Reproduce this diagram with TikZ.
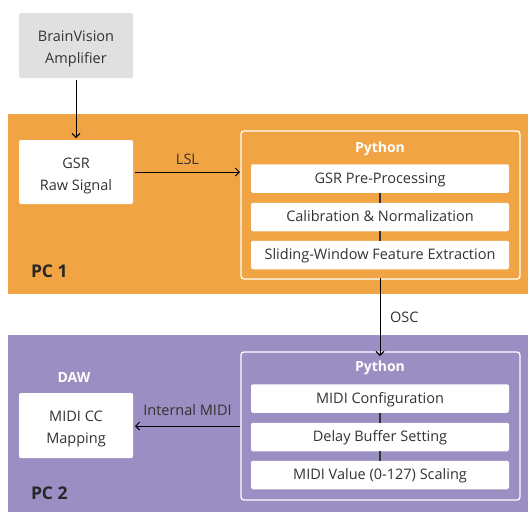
\documentclass[tikz,border=0pt]{standalone}
\usepackage{fontspec}
\setmainfont{Open Sans}
\usetikzlibrary{arrows.meta}
\definecolor{pcorange}{HTML}{F1A443}
\definecolor{pcpurple}{HTML}{9A8EC2}
\definecolor{ampgray}{HTML}{E0E0E0}
\definecolor{txt}{HTML}{333333}
\newcommand{\toppad}{\rule{0pt}{18pt}}
\begin{document}
\begin{tikzpicture}[x=1pt,y=-1pt,
  every node/.style={inner sep=0pt,outer sep=0pt,text=txt},
  boxnode/.style={draw=none,rounded corners=2pt,align=center,font=\fontsize{14.5}{22}\selectfont},
  whitebox/.style={boxnode,fill=white},
  graybox/.style={boxnode,fill=ampgray},
  stepbox/.style={fill=white,rounded corners=2pt,minimum width=258pt,minimum height=28.5pt,font=\fontsize{14.5}{16}\selectfont,text height=10.4pt,text depth=1pt},
  pybox/.style={draw=white,line width=1.3pt,rounded corners=3pt,minimum width=279pt,minimum height=148pt},
  pytitle/.style={text=white,font=\bfseries\fontsize{14}{16}\selectfont,text height=10pt,text depth=0pt},
  pclabel/.style={text=black!85,anchor=west,font=\bfseries\fontsize{17.5}{20}\selectfont,text height=12.5pt,text depth=0pt},
  flow/.style={draw=black,line width=0.9pt,-{Straight Barb[length=4pt,width=8pt]}},
  link/.style={draw=txt,line width=1.2pt},
  lbl/.style={font=\fontsize{14.5}{16}\selectfont,text height=10.4pt,text depth=0pt}
]
\useasboundingbox (0,0) rectangle (528,512);
% regions
\fill[pcorange] (8,114) rectangle (528,294);
\fill[pcpurple] (8,335) rectangle (528,512);
\node[pclabel] (pc1) at (31,271.2) {PC 1};
\node[pclabel] (pc2) at (31,493.3) {PC 2};
% left boxes
\node[graybox,minimum width=114pt,minimum height=65pt] (amp) at (76,45.5) {\toppad BrainVision\\Amplifier};
\node[whitebox,minimum width=114pt,minimum height=64pt] (gsr) at (76,172) {\toppad GSR\\Raw Signal};
\node[whitebox,minimum width=114pt,minimum height=65pt] (midi) at (76,425.5) {\toppad MIDI CC\\Mapping};
\node[pytitle] (daw) at (74,377) {DAW};
% python 1
\node[pybox] (py1) at (380.5,205) {};
\node[pytitle] (py1t) at (380,147) {Python};
\node[stepbox] (a1) at (380,178.5) {GSR Pre-Processing};
\node[stepbox] (a2) at (380,217) {Calibration \& Normalization};
\node[stepbox] (a3) at (380,255) {Sliding-Window Feature Extraction};
\draw[link] (a1.south) -- (a2.north);
\draw[link] (a2.south) -- (a3.north);
% python 2
\node[pybox] (py2) at (380.5,426) {};
\node[pytitle] (py2t) at (380,366) {Python};
\node[stepbox] (b1) at (380,398.5) {MIDI Configuration};
\node[stepbox] (b2) at (380,437) {Delay Buffer Setting};
\node[stepbox] (b3) at (380,475) {MIDI Value (0-127) Scaling};
\draw[link] (b1.south) -- (b2.north);
\draw[link] (b2.south) -- (b3.north);
% connectors
\draw[flow] ([yshift=-2pt]amp.south) -- ([yshift=2pt]gsr.north);
\draw[flow] ([xshift=2pt]gsr.east) -- ([xshift=-1pt]gsr.east -| py1.west) node[midway,above=7.5pt,lbl] (lsl) {LSL};
\draw[flow] ([xshift=-0.5pt,yshift=1pt]py1.south) -- ([xshift=-0.5pt,yshift=-4pt]py2.north) node[midway,right=10pt,lbl] (osc) {OSC};
\draw[flow] ([xshift=-1pt]py2.west) -- ([xshift=2pt]py2.west -| midi.east) node[midway,above=10.5pt,lbl] (imidi) {Internal MIDI};
\end{tikzpicture}
\end{document}
